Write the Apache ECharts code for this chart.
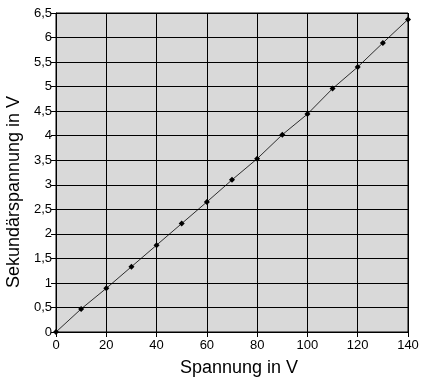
<!DOCTYPE html>
<html><head><meta charset="utf-8">
<script src="https://cdn.jsdelivr.net/npm/echarts@6/dist/echarts.min.js"></script>
<style>html,body{margin:0;padding:0;background:#fff}#c{width:423px;height:382px}</style>
</head><body><div id="c"></div>
<script>
const primary = [0, 10, 20, 30, 40, 50, 60, 70, 80, 90, 100, 110, 120, 130, 140];
const secondary = [0, 0.47, 0.89, 1.33, 1.77, 2.21, 2.65, 3.10, 3.53, 4.02, 4.44, 4.96, 5.40, 5.89, 6.37];
const xName = 'Spannung in V';
const yName = 'Sekundärspannung in V';
const fmt = v => String(v).replace('.', ',');
const chart = echarts.init(document.getElementById('c'), null, {renderer: 'canvas'});
const font = 'Liberation Sans, Arial, sans-serif';
chart.setOption({
  animation: false,
  backgroundColor: '#fff',
  grid: {left: 56, right: 15, top: 13, bottom: 50, show: true, backgroundColor: '#d9d9d9', borderColor: '#000', borderWidth: 1},
  graphic: [
    {type: 'text', left: null, x: 239, y: 368, style: {text: xName, fontFamily: font, fontSize: 18, fill: '#000', align: 'center', verticalAlign: 'middle'}},
    {type: 'text', x: 14, y: 192, rotation: Math.PI / 2, style: {text: yName, fontFamily: font, fontSize: 18, fill: '#000', align: 'center', verticalAlign: 'middle'}}
  ],
  xAxis: {
    type: 'value', min: 0, max: 140, interval: 20,
    axisLine: {show: true, lineStyle: {color: '#000', width: 1}},
    axisTick: {show: true, length: 5, lineStyle: {color: '#000'}},
    axisLabel: {fontFamily: font, fontSize: 13, color: '#000', margin: 7, formatter: fmt},
    splitLine: {show: true, lineStyle: {color: '#000', width: 1}}
  },
  yAxis: {
    type: 'value', min: 0, max: 6.5, interval: 0.5,
    axisLine: {show: true, lineStyle: {color: '#000', width: 1}},
    axisTick: {show: true, length: 5, lineStyle: {color: '#000'}},
    axisLabel: {fontFamily: font, fontSize: 13, color: '#000', margin: 4, formatter: fmt},
    splitLine: {show: true, lineStyle: {color: '#000', width: 1}}
  },
  series: [{
    type: 'line',
    data: primary.map((x, i) => [x, secondary[i]]),
    symbol: 'diamond', symbolSize: 6,
    itemStyle: {color: '#000'},
    lineStyle: {color: '#000', width: 0.8}
  }]
});
</script></body></html>
